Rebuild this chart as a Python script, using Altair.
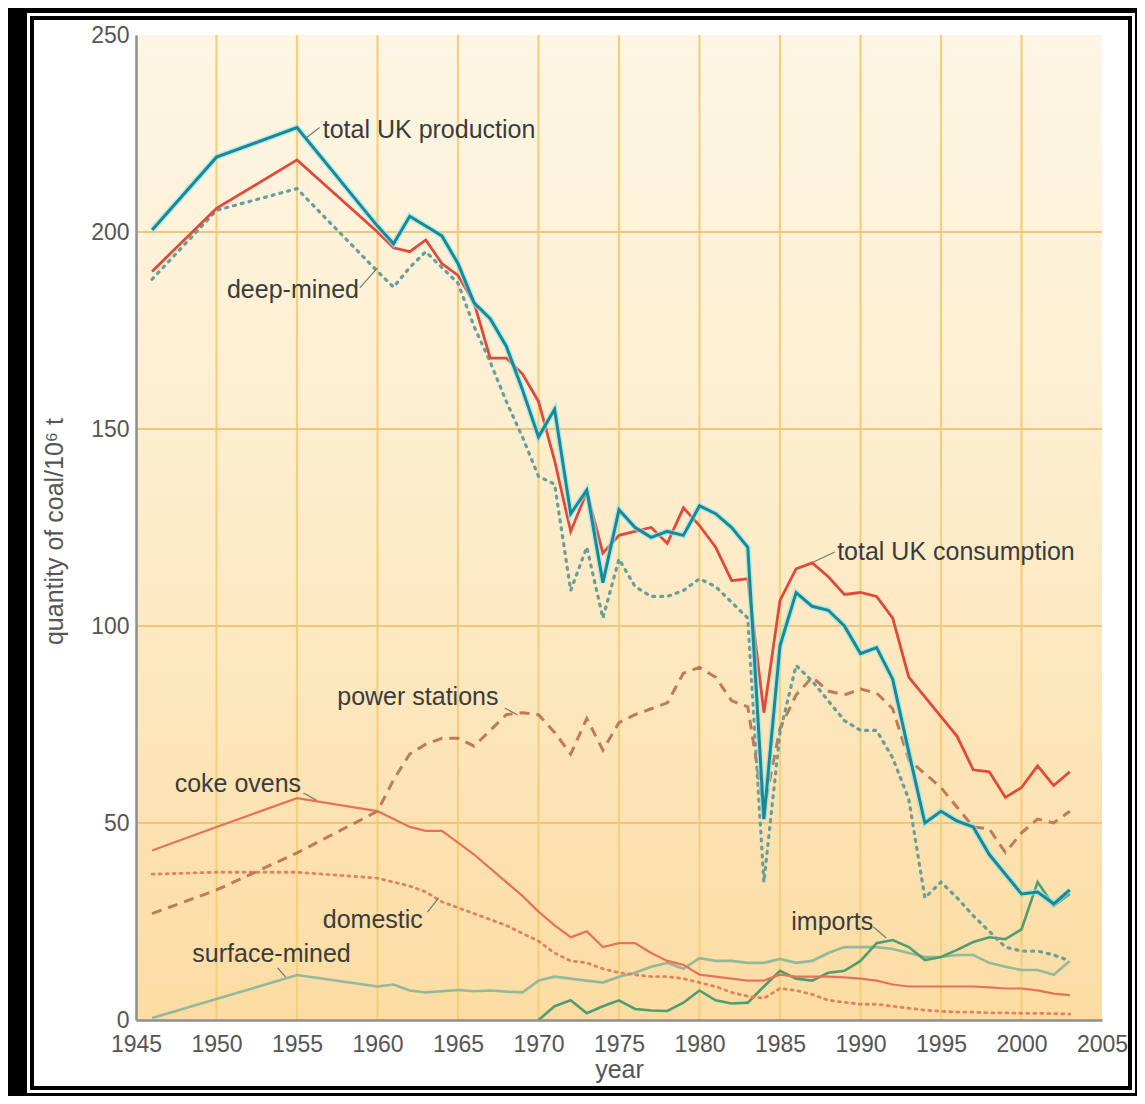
import altair as alt
import pandas as pd

# ---------------- data ----------------
years = [1946, 1950, 1955, 1960, 1961, 1962, 1963, 1964, 1965, 1966, 1967, 1968,
         1969, 1970, 1971, 1972, 1973, 1974, 1975, 1976, 1977, 1978, 1979, 1980,
         1981, 1982, 1983, 1984, 1985, 1986, 1987, 1988, 1989, 1990, 1991, 1992,
         1993, 1994, 1995, 1996, 1997, 1998, 1999, 2000, 2001, 2002, 2003]

production = [200.5, 219, 226.5, 201.5, 197, 204, 201.5, 199, 192, 182, 178, 171,
              160, 148, 155, 128.5, 134.5, 111, 129.5, 125, 122.5, 124, 123, 130.5,
              128.5, 125, 120, 51, 95, 108.5, 105, 104, 100, 93, 94.5, 86.5,
              68, 50, 53, 50.5, 49, 42, 37, 32, 32.5, 29.5, 33]

consumption = [190, 206, 218.3, 200, 196, 195, 198, 192, 189, 182, 168, 168,
               164, 157, 142, 124, 134, 118.5, 123, 124, 125, 121, 130, 125.5,
               120, 111.5, 112, 78, 106.5, 114.5, 116, 112.5, 108, 108.5, 107.5, 102,
               87, 82, 77, 72, 63.5, 63, 56.5, 59, 64.5, 59.5, 63]

deep_mined = [188, 205.5, 211, 190, 186, 191, 195, 191, 187, 176, 167, 157,
              148, 138, 136, 109, 120, 102, 117, 110, 107.5, 107.5, 109, 112,
              110, 106, 102, 35, 73, 90, 86, 81, 76, 73.5, 73.5, 66.5,
              56, 31, 35, 31, 26.5, 22.5, 18.5, 17.5, 17.5, 16.5, 15]

power_stations = [27, 33, 42.4, 53, 61, 67.5, 70, 71.5, 71.5, 69.5, 73.5, 77.5,
                  78, 77.5, 73, 67.5, 76.5, 68.5, 75.5, 77.5, 79, 80.5, 88, 89.5,
                  87, 81, 79.5, 53.5, 74, 82.5, 87, 83.5, 82.5, 84, 83, 79,
                  66, 62.5, 59, 54, 49, 48.5, 42.5, 47.5, 51, 50, 53]

coke_ovens = [43, 49, 56.3, 53, 51, 49, 48, 48, 45, 42, 38.5, 35,
              31.5, 27.5, 24, 21, 22.5, 18.5, 19.5, 19.5, 17, 15, 14, 11.5,
              11, 10.5, 10, 10, 11.5, 11, 11, 11, 10.8, 10.5, 10, 9,
              8.5, 8.5, 8.5, 8.5, 8.5, 8.3, 8, 8, 7.5, 6.7, 6.3]

domestic = [37, 37.5, 37.5, 36, 35, 34, 32.5, 30, 28.5, 27, 25.5, 24,
            22, 20, 17, 15, 14.5, 13, 12, 11.5, 11, 11, 10.5, 9.5,
            8.5, 7, 6, 5.5, 8, 7.5, 6.5, 5, 4.5, 4, 4, 3.5,
            3, 2.5, 2.2, 2, 2, 1.8, 1.8, 1.7, 1.7, 1.6, 1.5]

surface_mined = [0.5, 5.3, 11.4, 8.5, 9, 7.5, 7, 7.3, 7.6, 7.3, 7.5, 7.2,
                 7, 10, 11, 10.5, 10, 9.5, 11, 12, 13.5, 14.5, 13, 15.7,
                 15, 15, 14.5, 14.5, 15.5, 14.5, 15, 17, 18.5, 18.5, 18.5, 18,
                 17, 16, 16, 16.5, 16.5, 14.5, 13.5, 12.7, 12.7, 11.5, 15]

import_years = [1970, 1971, 1972, 1973, 1974, 1975, 1976, 1977, 1978, 1979, 1980,
                1981, 1982, 1983, 1984, 1985, 1986, 1987, 1988, 1989, 1990, 1991,
                1992, 1993, 1994, 1995, 1996, 1997, 1998, 1999, 2000, 2001, 2002, 2003]
imports = [0, 3.5, 5, 1.7, 3.5, 5, 2.8, 2.4, 2.3, 4.4, 7.5,
           5, 4.2, 4.4, 8.5, 12.5, 10.5, 10, 12, 12.5, 15, 19.5,
           20.3, 18.5, 15.2, 16, 17.8, 19.8, 21, 20.5, 23, 35, 29, 32]

x_ticks = [1945, 1950, 1955, 1960, 1965, 1970, 1975, 1980, 1985, 1990, 1995, 2000, 2005]
y_ticks = [0, 50, 100, 150, 200, 250]
grid_years = [1950, 1955, 1960, 1965, 1970, 1975, 1980, 1985, 1990, 1995, 2000]
grid_values = [50, 100, 150, 200]

label_text = ["total UK production", "deep-mined", "total UK consumption",
              "power stations", "coke ovens", "domestic", "surface-mined", "imports"]
label_year = [1956.6, 1950.65, 1988.55, 1957.5, 1947.4, 1956.6, 1948.5, 1985.7]
label_value = [223.9, 183.2, 116.8, 79.9, 57.9, 23.4, 14.7, 22.8]

leader_year1 = [1955.6, 1958.9, 1987.05, 1967.9, 1955.4, 1963.1, 1953.8, 1990.8]
leader_value1 = [224.0, 185.8, 116.2, 79.2, 57.6, 27.4, 13.2, 23.6]
leader_year2 = [1956.4, 1960.0, 1988.4, 1968.7, 1956.2, 1963.8, 1954.3, 1991.6]
leader_value2 = [226.5, 190.9, 118.8, 77.4, 55.8, 31.0, 10.9, 20.8]

# ---------------- layout ----------------
W, H = 966, 985
FONT = "Liberation Sans"

xs = alt.Scale(domain=[1945, 2005], nice=False, zero=False)
ys = alt.Scale(domain=[0, 250], nice=False, zero=True)

xaxis = alt.Axis(values=x_ticks, format="d", title="year", grid=False, ticks=False,
                 tickSize=0, labelPadding=13, labelFont=FONT, labelFontSize=23,
                 labelColor="#555555", domainColor="#8e8e8e", domainWidth=2.5,
                 labelFlush=False, labelOverlap=False, titleFont=FONT,
                 titleFontSize=25, titleFontWeight="normal", titleColor="#555555",
                 titleBaseline="alphabetic", titleY=57, zindex=1)
yaxis = alt.Axis(values=y_ticks, format="d", title="quantity of coal/10⁶ t",
                 grid=False, ticks=False, tickSize=0, labelPadding=7,
                 labelFont=FONT, labelFontSize=23, labelColor="#555555",
                 domainColor="#8e8e8e", domainWidth=2.5, labelFlush=False,
                 labelOverlap=False, titleFont=FONT, titleFontSize=25,
                 titleFontWeight="normal", titleColor="#555555", titleAngle=270,
                 titleAlign="center", titleBaseline="bottom", titleX=-69,
                 titleY=496, zindex=1)

X = alt.X("year:Q", scale=xs, axis=xaxis)
Y = alt.Y("value:Q", scale=ys, axis=yaxis)

one = alt.Data(values=[{"k": 1}])


def frame_rect(x1, x2, y1, y2, color):
    return alt.Chart(one).mark_rect(color=color, opacity=1).encode(
        x=alt.value(x1), x2=alt.value(x2), y=alt.value(y1), y2=alt.value(y2))


frame = [
    frame_rect(-109, 999, -22, 1058, "#ffffff"),
    frame_rect(-106, 996, -19, 1055, "#000000"),
    frame_rect(-102, 992, -15, 1051, "#ffffff"),
]

bg = alt.Chart(one).mark_rect(
    color=alt.Gradient(
        gradient="linear",
        stops=[alt.GradientStop(color="#fdf6e4", offset=0),
               alt.GradientStop(color="#fdecca", offset=0.5),
               alt.GradientStop(color="#fcdca2", offset=1)],
        x1=0, x2=0, y1=0, y2=1)
).encode(x=alt.value(0), x2=alt.value(W), y=alt.value(0), y2=alt.value(H))

vgrid = alt.Chart(pd.DataFrame({"year": grid_years})).mark_rule(
    color="#f2d07e", strokeWidth=2.2).encode(x=X, y=alt.value(0), y2=alt.value(H))
hgrid = alt.Chart(pd.DataFrame({"value": grid_values})).mark_rule(
    color="#f1c67a", strokeWidth=2.2).encode(y=Y, x=alt.value(0), x2=alt.value(W))


def series(yrs, vals, **style):
    df = pd.DataFrame({"year": yrs, "value": vals})
    return alt.Chart(df).mark_line(**style).encode(x=X, y=Y)


lines = [
    series(years, surface_mined, color="#93b99c", strokeWidth=2.6),
    series(import_years, imports, color="#4e9d72", strokeWidth=2.6),
    series(years, domestic, color="#e3825f", strokeWidth=2.8,
           strokeDash=[2, 5], strokeCap="round"),
    series(years, coke_ovens, color="#e8715a", strokeWidth=2.2),
    series(years, power_stations, color="#c07a58", strokeWidth=3,
           strokeDash=[10, 7]),
    series(years, deep_mined, color="#6a9e9a", strokeWidth=3.2,
           strokeDash=[2, 6], strokeCap="round"),
    series(years, consumption, color="#e2493b", strokeWidth=2.8),
    series(years, production, color="#8fe3ef", strokeWidth=6, opacity=0.6),
    series(years, production, color="#178a98", strokeWidth=3),
]

leaders = alt.Chart(pd.DataFrame({
    "year": leader_year1, "value": leader_value1,
    "year2": leader_year2, "value2": leader_value2})).mark_rule(
    color="#7a7a6a", strokeWidth=1.2).encode(
    x=X, y=Y, x2="year2:Q", y2="value2:Q")

labels = alt.Chart(pd.DataFrame({
    "year": label_year, "value": label_value, "text": label_text})).mark_text(
    align="left", baseline="alphabetic", font=FONT, fontSize=25,
    color="#3b3b3b").encode(x=X, y=Y, text="text:N")

chart = alt.layer(*frame, bg, vgrid, hgrid, *lines, leaders, labels).properties(
    width=W, height=H, background="#000000",
    padding={"left": 128, "top": 27, "right": 35, "bottom": 76},
    autosize=alt.AutoSizeParams(type="none"),
).configure_view(stroke=None, fill=None)

chart.save("out.html", embed_options={"renderer": "svg", "actions": False})
